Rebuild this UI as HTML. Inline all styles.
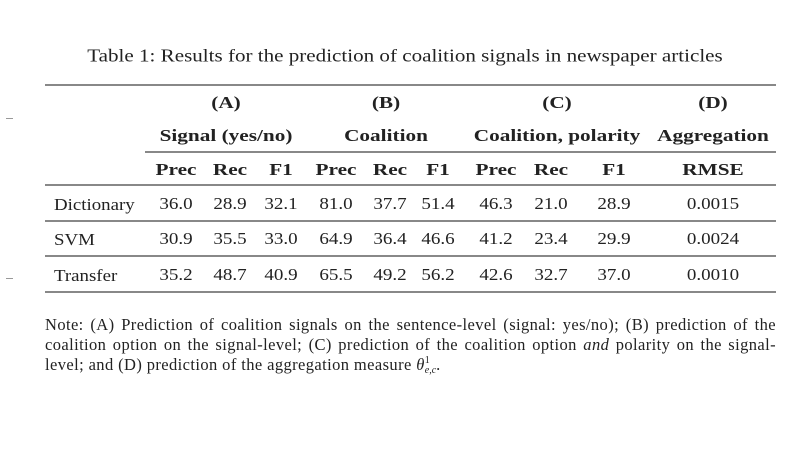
<!DOCTYPE html>
<html><head><style>
body{margin:0;width:808px;height:455px;background:#fff;position:relative;overflow:hidden;font-family:"Liberation Serif",serif;color:#222}
.t{position:absolute;white-space:nowrap;transform:translate(-50%,-50%) scaleX(1.12);font-size:17px}
.b{font-weight:bold;transform:translate(-50%,-50%) scaleX(1.25)}
.lf{transform:translate(0,-50%) scaleX(1.11);transform-origin:left center}
.l{position:absolute;background:#888}
.n{position:absolute;left:45px;width:731px;font-size:16.5px;letter-spacing:0.4px;text-align:justify;text-align-last:justify;white-space:nowrap}
</style></head><body>
<div class="t" style="left:405px;top:56px;font-size:18px;transform:translate(-50%,-50%) scaleX(1.17)">Table 1: Results for the prediction of coalition signals in newspaper articles</div>
<div class="l" style="left:45px;top:84px;width:731px;height:1.5px"></div>
<div class="l" style="left:145px;top:151px;width:631px;height:1.5px"></div>
<div class="l" style="left:45px;top:184px;width:731px;height:1.5px"></div>
<div class="l" style="left:45px;top:220px;width:731px;height:1.5px"></div>
<div class="l" style="left:45px;top:255px;width:731px;height:1.5px"></div>
<div class="l" style="left:45px;top:291px;width:731px;height:1.5px"></div>
<div class="l" style="left:6px;top:118px;width:7px;height:1px;background:#999"></div>
<div class="l" style="left:6px;top:278px;width:7px;height:1px;background:#999"></div>

<div class="t b" style="left:226px;top:103px">(A)</div>
<div class="t b" style="left:386px;top:103px">(B)</div>
<div class="t b" style="left:557px;top:103px">(C)</div>
<div class="t b" style="left:713px;top:103px">(D)</div>
<div class="t b" style="left:226px;top:136px">Signal (yes/no)</div>
<div class="t b" style="left:386px;top:136px">Coalition</div>
<div class="t b" style="left:557px;top:136px">Coalition, polarity</div>
<div class="t b" style="left:713px;top:136px">Aggregation</div>

<div class="t b" style="left:176px;top:170px">Prec</div>
<div class="t b" style="left:230px;top:170px">Rec</div>
<div class="t b" style="left:281px;top:170px">F1</div>
<div class="t b" style="left:336px;top:170px">Prec</div>
<div class="t b" style="left:390px;top:170px">Rec</div>
<div class="t b" style="left:438px;top:170px">F1</div>
<div class="t b" style="left:496px;top:170px">Prec</div>
<div class="t b" style="left:551px;top:170px">Rec</div>
<div class="t b" style="left:614px;top:170px">F1</div>
<div class="t b" style="left:713px;top:170px">RMSE</div>

<div class="t lf" style="left:54px;top:205px">Dictionary</div>
<div class="t lf" style="left:54px;top:240px">SVM</div>
<div class="t lf" style="left:54px;top:276px">Transfer</div>

<div class="t" style="left:176px;top:204px">36.0</div><div class="t" style="left:230px;top:204px">28.9</div><div class="t" style="left:281px;top:204px">32.1</div><div class="t" style="left:336px;top:204px">81.0</div><div class="t" style="left:390px;top:204px">37.7</div><div class="t" style="left:438px;top:204px">51.4</div><div class="t" style="left:496px;top:204px">46.3</div><div class="t" style="left:551px;top:204px">21.0</div><div class="t" style="left:614px;top:204px">28.9</div><div class="t" style="left:713px;top:204px">0.0015</div>
<div class="t" style="left:176px;top:239px">30.9</div><div class="t" style="left:230px;top:239px">35.5</div><div class="t" style="left:281px;top:239px">33.0</div><div class="t" style="left:336px;top:239px">64.9</div><div class="t" style="left:390px;top:239px">36.4</div><div class="t" style="left:438px;top:239px">46.6</div><div class="t" style="left:496px;top:239px">41.2</div><div class="t" style="left:551px;top:239px">23.4</div><div class="t" style="left:614px;top:239px">29.9</div><div class="t" style="left:713px;top:239px">0.0024</div>
<div class="t" style="left:176px;top:275px">35.2</div><div class="t" style="left:230px;top:275px">48.7</div><div class="t" style="left:281px;top:275px">40.9</div><div class="t" style="left:336px;top:275px">65.5</div><div class="t" style="left:390px;top:275px">49.2</div><div class="t" style="left:438px;top:275px">56.2</div><div class="t" style="left:496px;top:275px">42.6</div><div class="t" style="left:551px;top:275px">32.7</div><div class="t" style="left:614px;top:275px">37.0</div><div class="t" style="left:713px;top:275px">0.0010</div>

<div class="n" style="top:315px">Note: (A) Prediction of coalition signals on the sentence-level (signal: yes/no); (B) prediction of the</div>
<div class="n" style="top:335px">coalition option on the signal-level; (C) prediction of the coalition option <i>and</i> polarity on the signal-</div>
<div class="n" style="top:355px;width:auto;text-align-last:auto">level; and (D) prediction of the aggregation measure <i>θ</i><span style="position:relative;display:inline-block;font-size:10px;line-height:10px;vertical-align:middle;letter-spacing:0"><span style="display:block">1</span><span style="display:block"><i>e,c</i></span></span>.</div>
</body></html>
